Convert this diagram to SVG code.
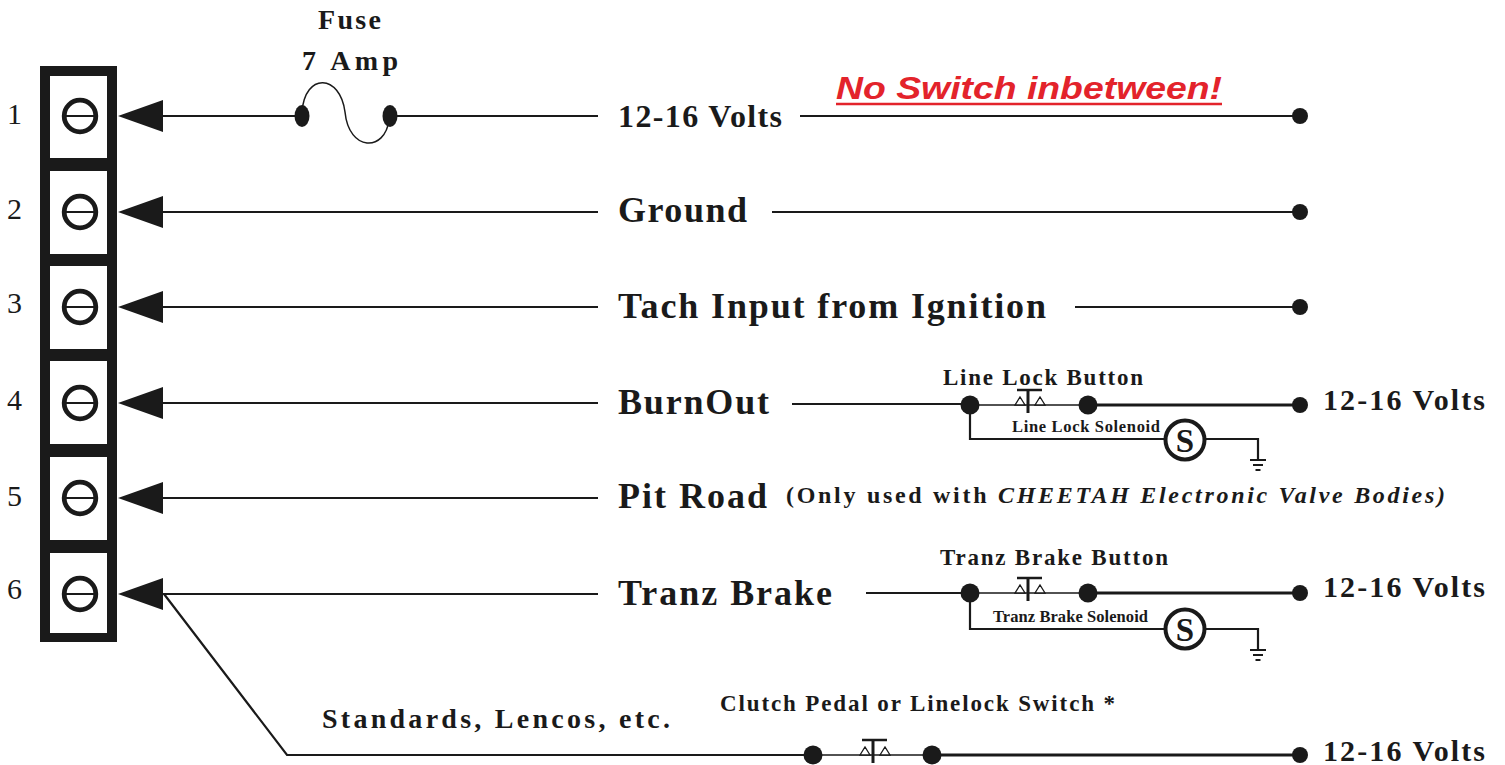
<svg xmlns="http://www.w3.org/2000/svg" xmlns:xlink="http://www.w3.org/1999/xlink" width="1505" height="765" viewBox="0 0 1505 765">
<style>
.t{font-family:"Liberation Serif","Times New Roman",serif;font-weight:bold;fill:#1a1a1a}
.n{font-family:"Liberation Serif","Times New Roman",serif;font-size:30px;fill:#1a1a1a}
.big{font-size:36px}
.w{fill:none;stroke:#1a1a1a;stroke-width:2.2}
.wt{fill:none;stroke:#1a1a1a;stroke-width:1.5}
.wk{fill:none;stroke:#1a1a1a;stroke-width:3}
.dot{fill:#1a1a1a}
.scr{fill:none;stroke:#1a1a1a;stroke-width:4.8}
</style>
<defs>
<path id="arr" d="M0,0 L45,-16 L45,16Z" fill="#1a1a1a"/>
<g id="screw">
<circle r="15.8" class="scr"/>
<line x1="-17" y1="0" x2="17" y2="0" stroke="#1a1a1a" stroke-width="2"/>
</g>
<g id="btn">
<line x1="-11" y1="-15" x2="14" y2="-15" stroke="#1a1a1a" stroke-width="2.5"/>
<line x1="0" y1="-15" x2="0" y2="8" stroke="#1a1a1a" stroke-width="3"/>
<path d="M-13,0 L-8,-8 L-3,0Z M7,0 L12,-8 L17,0Z" fill="#fff" stroke="#1a1a1a" stroke-width="1.3"/>
</g>
<g id="gnd">
<line x1="-8" y1="0" x2="8" y2="0" stroke="#1a1a1a" stroke-width="2"/>
<line x1="-5" y1="5" x2="5" y2="5" stroke="#1a1a1a" stroke-width="2"/>
<line x1="-2.5" y1="10" x2="2.5" y2="10" stroke="#1a1a1a" stroke-width="2"/>
</g>
</defs>
<rect width="1505" height="765" fill="#fff"/>

<g id="terminal-block">
<rect x="40" y="66" width="77" height="576" fill="#1a1a1a"/>
<rect x="50" y="76" width="57" height="82" fill="#fff"/>
<rect x="50" y="171" width="57" height="83" fill="#fff"/>
<rect x="50" y="266" width="57" height="83" fill="#fff"/>
<rect x="50" y="361" width="57" height="83" fill="#fff"/>
<rect x="50" y="457" width="57" height="83" fill="#fff"/>
<rect x="50" y="553" width="57" height="80" fill="#fff"/>
<use xlink:href="#screw" x="80" y="116"/>
<use xlink:href="#screw" x="80" y="212"/>
<use xlink:href="#screw" x="80" y="307"/>
<use xlink:href="#screw" x="80" y="403"/>
<use xlink:href="#screw" x="80" y="498"/>
<use xlink:href="#screw" x="80" y="594"/>
<text class="n" x="7" y="124">1</text>
<text class="n" x="7" y="219">2</text>
<text class="n" x="7" y="313">3</text>
<text class="n" x="7" y="410">4</text>
<text class="n" x="7" y="506">5</text>
<text class="n" x="7" y="599">6</text>
</g>

<g id="connectors">
<use xlink:href="#arr" x="118" y="116"/>
<use xlink:href="#arr" x="118" y="212"/>
<use xlink:href="#arr" x="118" y="307"/>
<use xlink:href="#arr" x="118" y="403"/>
<use xlink:href="#arr" x="118" y="498"/>
<use xlink:href="#arr" x="118" y="594"/>
<path class="w" d="M160,116 H302 M390,116 H598 M800,116 H1300"/>
<path class="w" d="M160,212 H598 M772,212 H1300"/>
<path class="w" d="M160,307 H598 M1075,307 H1300"/>
<path class="w" d="M160,403 H598 M792,404 H970"/>
<path class="w" d="M160,498 H598"/>
<path class="w" d="M160,594 H598 M866,593 H970"/>
<path class="w" d="M164,594 L287,755 H813"/>
<path class="wt" d="M970,405 H1088 M970,593 H1088 M813,755 H932"/>
<path class="wk" d="M1088,405 H1300 M1088,593 H1300 M932,755 H1300"/>
<path class="w" d="M970,405 V439 H1166 M1205,439 H1258 V460"/>
<path class="w" d="M970,593 V629 H1166 M1205,629 H1258 V650"/>
</g>

<g id="fuse">
<path d="M302,112 C305,72 340,74 345,112 C349,152 385,152 389,120" fill="none" stroke="#1a1a1a" stroke-width="1.5"/>
<ellipse cx="302" cy="116" rx="7.5" ry="11" class="dot"/>
<ellipse cx="390" cy="116" rx="7.5" ry="11" class="dot"/>
<text class="t" x="318" y="29" font-size="28" textLength="63" lengthAdjust="spacing">Fuse</text>
<text class="t" x="302" y="70" font-size="28" textLength="96" lengthAdjust="spacing">7 Amp</text>
</g>

<g id="row1">
<text class="t" x="618" y="127" font-size="32" textLength="164" lengthAdjust="spacing">12-16 Volts</text>
<text x="836" y="99" font-family="'Liberation Sans',Arial,sans-serif" font-weight="bold" font-style="italic" font-size="31" fill="#e3232b" textLength="386" lengthAdjust="spacingAndGlyphs">No Switch inbetween!</text>
<line x1="836" y1="104" x2="1222" y2="104" stroke="#e3232b" stroke-width="2.5"/>
<circle cx="1300" cy="116" r="8" class="dot"/>
</g>

<g id="row2">
<text class="t big" x="618" y="222" textLength="129" lengthAdjust="spacing">Ground</text>
<circle cx="1300" cy="212" r="8" class="dot"/>
</g>

<g id="row3">
<text class="t big" x="618" y="318" textLength="428" lengthAdjust="spacing">Tach Input from Ignition</text>
<circle cx="1300" cy="307" r="8" class="dot"/>
</g>

<g id="row4">
<text class="t big" x="618" y="414" textLength="151" lengthAdjust="spacing">BurnOut</text>
<text class="t" x="943" y="385" font-size="23" textLength="200" lengthAdjust="spacing">Line Lock Button</text>
<circle cx="970" cy="405" r="9.5" class="dot"/>
<circle cx="1088" cy="405" r="9.5" class="dot"/>
<use xlink:href="#btn" x="1028" y="405"/>
<text class="t" x="1012" y="432" font-size="16.5" textLength="148" lengthAdjust="spacing">Line Lock Solenoid</text>
<circle cx="1185" cy="440" r="19.5" fill="#fff" stroke="#1a1a1a" stroke-width="4"/>
<text class="t" x="1185" y="452" font-size="33" text-anchor="middle">S</text>
<use xlink:href="#gnd" x="1258" y="460"/>
<circle cx="1300" cy="405" r="8" class="dot"/>
<text class="t" x="1323" y="410" font-size="30" textLength="162" lengthAdjust="spacing">12-16 Volts</text>
</g>

<g id="row5">
<text class="t big" x="618" y="508" textLength="149" lengthAdjust="spacing">Pit Road</text>
<text class="t" x="786" y="503" font-size="24" textLength="659" lengthAdjust="spacing">(Only used with <tspan font-style="italic">CHEETAH Electronic Valve Bodies)</tspan></text>
</g>

<g id="row6">
<text class="t big" x="618" y="605" textLength="214" lengthAdjust="spacing">Tranz Brake</text>
<text class="t" x="940" y="565" font-size="23" textLength="228" lengthAdjust="spacing">Tranz Brake Button</text>
<circle cx="970" cy="593" r="9.5" class="dot"/>
<circle cx="1088" cy="593" r="9.5" class="dot"/>
<use xlink:href="#btn" x="1028" y="593"/>
<text class="t" x="993" y="622" font-size="16.5" textLength="155" lengthAdjust="spacing">Tranz Brake Solenoid</text>
<circle cx="1185" cy="629" r="19.5" fill="#fff" stroke="#1a1a1a" stroke-width="4"/>
<text class="t" x="1185" y="641" font-size="33" text-anchor="middle">S</text>
<use xlink:href="#gnd" x="1258" y="650"/>
<circle cx="1300" cy="593" r="8" class="dot"/>
<text class="t" x="1323" y="597" font-size="30" textLength="162" lengthAdjust="spacing">12-16 Volts</text>
</g>

<g id="row7">
<text class="t" x="322" y="728" font-size="28" textLength="348" lengthAdjust="spacing">Standards, Lencos, etc.</text>
<text class="t" x="720" y="711" font-size="23" textLength="395" lengthAdjust="spacing">Clutch Pedal or Linelock Switch *</text>
<circle cx="813" cy="755" r="9.5" class="dot"/>
<circle cx="932" cy="755" r="9.5" class="dot"/>
<use xlink:href="#btn" x="873" y="755"/>
<circle cx="1300" cy="755" r="8" class="dot"/>
<text class="t" x="1323" y="761" font-size="30" textLength="162" lengthAdjust="spacing">12-16 Volts</text>
</g>
</svg>
